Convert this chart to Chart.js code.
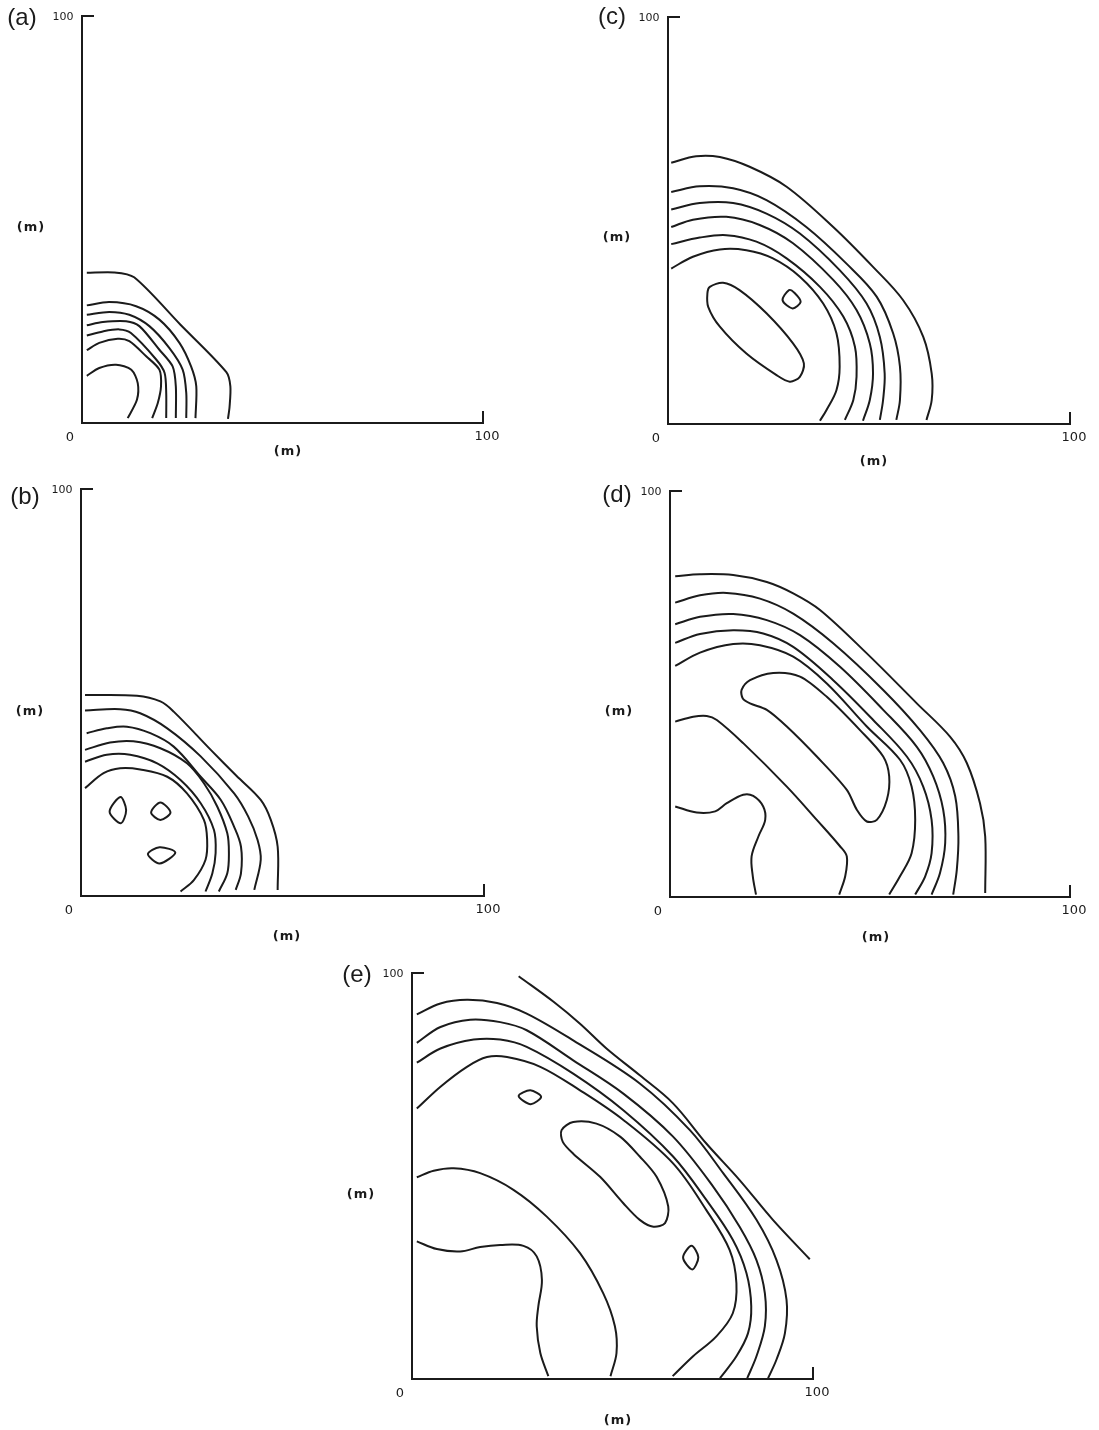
<!DOCTYPE html>
<html>
<head>
<meta charset="utf-8">
<script src="https://cdn.jsdelivr.net/npm/chart.js@4.4.0/dist/chart.umd.min.js"></script>
<style>
  body { margin: 0; background: #fff; width: 1099px; height: 1430px; position: relative; overflow: hidden; }
  canvas { position: absolute; }
</style>
</head>
<body>
<canvas id="chart-a"></canvas>
<canvas id="chart-b"></canvas>
<canvas id="chart-c"></canvas>
<canvas id="chart-d"></canvas>
<canvas id="chart-e"></canvas>
<script>
// contour lines, [x (m), y (m)]
// open lines run from the y axis down to the x axis; loops are closed
const contoursA = [
  [[1.2,36.9],[8,37],[13,35.8],[24.5,24.2],[36,12.5],[37,9],[36.8,4],[36.4,1]],
  [[1.2,28.9],[6.8,29.7],[13.5,28.7],[19.3,25.4],[24.3,19.7],[27.2,13.9],[28.5,9],[28.3,1.2]],
  [[1.2,26.6],[6.8,27.3],[11.8,26.6],[16.8,23.8],[21.8,18.4],[25.1,13.1],[26,7.4],[26,1.2]],
  [[1.2,24],[5.2,24.8],[11,25],[14.3,23.8],[19.3,18],[22.6,13.9],[23.4,9],[23.4,1.2]],
  [[1.2,21.5],[5.2,22.5],[9.3,23],[12.2,22.1],[18.5,15.6],[20.6,12.3],[21,7.4],[21,1.2]],
  [[1.2,17.9],[4.3,19.7],[8.9,20.7],[11.8,20.1],[16,16.4],[19.3,13.1],[19.7,9],[18.9,4.9],[17.5,1.2]],
  [[1.2,11.6],[4.3,13.5],[8.5,14.3],[12.3,13.1],[13.9,9.8],[13.7,5.7],[11.4,1.2]]
];
const loopsA = [];

const contoursB = [
  [[1,49.4],[13.9,49.2],[19.7,47.8],[23,45.3],[32.2,35.9],[38.5,29.6],[44.6,23.6],[47.1,18.7],[48.8,12.1],[48.8,1.5]],
  [[1,45.6],[9.7,45.9],[14.7,44.9],[21.4,41.2],[29.7,34.3],[38,25.2],[41.5,19.5],[43.8,13.8],[44.6,8.9],[43,1.5]],
  [[1.4,40],[6.4,41.2],[11.4,41.6],[17.2,40],[23,36.7],[29.7,29.3],[34.7,23.6],[38,17],[39.7,12.1],[39.7,5.6],[38.4,1.5]],
  [[1,35.9],[7.2,37.7],[13,38],[19.7,36.3],[26.3,32.6],[30.5,27.7],[33.8,22],[36.3,15.4],[36.7,10.5],[36.3,5.6],[34.2,1.1]],
  [[1,33],[6.4,34.7],[12.2,34.7],[18.9,32.6],[24.7,28.5],[29.7,22.8],[33,16.2],[33.4,10.5],[32.6,5.6],[30.9,1.1]],
  [[1,26.5],[5.6,30.2],[9.7,31.4],[14.7,31.1],[21.4,29.3],[26.3,25.2],[30.5,18.7],[31.3,13.8],[30.9,8.9],[28,3.9],[24.7,1.1]]
];
const loopsB = [
  [[9.8,24.3],[11.2,21.1],[9.9,17.9],[7.1,20.7]],
  [[19.7,23],[22.2,20.5],[19.7,18.7],[17.4,20.5]],
  [[16.6,10.3],[19.5,12],[23.4,10.7],[19.5,8]]
];

const contoursC = [
  [[0.8,64.2],[7,65.8],[12.9,65.6],[20.3,63.2],[29.5,58.3],[41.1,48.4],[51,38.6],[58.5,30.4],[63.5,21.4],[65.6,12.4],[65.6,5.9],[64.3,1]],
  [[0.8,57],[7.9,58.4],[16.2,57.9],[24.5,55],[34.4,48.4],[44.4,39.4],[51.9,31.3],[56,22.3],[57.7,14.1],[57.7,5.9],[56.8,1]],
  [[0.8,52.7],[7.9,54.3],[16.2,54.3],[24.5,51.7],[32.8,46.8],[42.7,37.8],[49.4,29.6],[52.7,21.4],[53.9,12.4],[53.5,5.9],[52.7,1]],
  [[0.8,48.4],[6.2,50.2],[14.5,50.9],[22.8,48.9],[31.1,44.4],[41.1,35.4],[46.9,28],[50.2,19.8],[51,12.4],[50.2,5.9],[48.5,0.8]],
  [[0.8,44.2],[7.9,45.8],[14.5,46.4],[22,44.8],[29.5,40.7],[37.8,33.7],[43.6,26.4],[46.5,19],[46.9,11.6],[46.1,5.9],[44,1]],
  [[0.8,38.2],[6.2,41.1],[12.9,42.9],[19.5,42.7],[26.1,40.7],[32.8,36.2],[38.6,29.6],[41.9,22.3],[42.7,14.1],[41.9,8.3],[39.4,3.4],[37.8,0.8]]
];
const loopsC = [
  [[10.4,33.7],[13.7,34.7],[17.8,32.9],[24.5,27.2],[31.1,19.8],[33.8,14.9],[32.8,11.6],[30.3,10.4],[27,12],[19.5,17.3],[12.9,23.9],[10,28.8],[9.8,32.1]],
  [[28.5,30.4],[30.1,32.9],[31.5,32.2],[33,30],[31,28.4]]
];

const contoursD = [
  [[1.3,79],[7.5,79.5],[15.8,79.3],[24.2,77.6],[30.8,74.8],[37.5,70.7],[49.2,60],[61.7,47.7],[70,39.5],[74.2,33],[77.5,23.1],[78.8,14.9],[78.8,1]],
  [[1.3,72.5],[7.5,74.3],[14.2,74.9],[22.5,73.5],[30.8,69.8],[40.8,62.5],[53.3,51],[62.5,41.1],[68.3,33],[71.3,24.8],[72.1,14.9],[71.7,6.7],[70.8,0.6]],
  [[1.3,67.2],[7.5,69],[15.8,69.7],[24.2,68.2],[32.5,64.5],[42.5,56.7],[53.3,46.1],[61.7,37],[65.8,29.7],[68.3,21.5],[68.8,13.3],[67.5,5.9],[65.4,0.6]],
  [[1.3,62.6],[7.5,64.8],[15.8,65.7],[23.3,64.9],[30.8,61.6],[40.8,53.4],[50.8,43.6],[59.2,34.6],[63.3,27.2],[65.4,19],[65.4,10.8],[63.8,5.1],[61.3,0.6]],
  [[1.3,56.9],[7.5,60.2],[15.8,62.3],[22.5,62],[30.8,59.2],[39.2,52.6],[49.2,42],[57.5,33.8],[60.4,27.2],[61.3,19],[60.4,10.8],[57.5,5.1],[54.8,0.6]],
  [[1.3,43.2],[5.8,44.4],[9.2,44.6],[11.7,43.6],[18.3,37.9],[29.2,27.2],[36.7,19],[42.5,12.5],[44.2,10],[43.8,5.1],[42.3,0.6]],
  [[1.3,22.3],[6.7,20.8],[11.3,21.1],[14.2,23.1],[18.3,25.2],[20.8,24.9],[23.3,22.3],[23.8,19],[22.1,14.9],[20.4,10],[20.7,5.1],[21.5,0.6]]
];
const loopsD = [
  [[17.9,51],[20,53.4],[25.8,55.2],[32.5,54.3],[39.2,49.3],[47.5,41.1],[53.3,34.6],[54.8,29.7],[54.2,23.9],[51.7,19],[49.2,18.6],[46.7,21.5],[44.2,26.4],[36.7,34.6],[29.2,42],[24.2,46.1],[20,47.7],[18.2,48.9]]
];

const contoursE = [
  [[26.6,99.2],[35.3,92.9],[41.9,87.5],[48.5,81.4],[56.8,74.8],[65.1,67.9],[73.4,58],[81.7,49],[90,39.2],[99.2,29.5]],
  [[1.2,89.8],[7.1,92.5],[13.7,93.4],[21.2,92.6],[28.6,90],[40.2,83.4],[56.8,72.8],[69.3,61.3],[77.6,50.7],[85.9,39.2],[90.9,29.3],[93.4,19.5],[93,11.3],[90.9,4.8],[88.8,0.2]],
  [[1.2,82.8],[7.1,86.7],[14.5,88.5],[22,87.9],[28.6,85.9],[40.2,78.5],[52.7,70.3],[65.1,59.7],[75.1,47.4],[81.7,37.5],[85.9,29.3],[88,21.1],[88,13],[85.9,5.6],[83.6,0.2]],
  [[1.2,77.9],[7.1,81.4],[15.4,83.6],[22,83.6],[28.6,81.8],[40.2,75.2],[52.7,66.2],[65.1,54.8],[73.4,44.1],[80,34.3],[83.4,26.1],[84.6,17.9],[83.8,11.3],[80.9,5.6],[76.8,0.2]],
  [[1.2,66.6],[7.1,72],[13.7,76.9],[18.7,79.3],[23.7,79.3],[32,76.9],[41.9,71.1],[52.7,63.8],[65.1,53.1],[73.4,41.6],[79.2,31.8],[80.9,23.6],[80,16.2],[75.9,10.5],[70.1,5.6],[65,0.7]],
  [[1.2,49.7],[5.4,51.3],[10.4,51.9],[17,50.7],[25.3,46.6],[33.6,40],[41.9,31],[47.7,21.1],[50.6,13],[51,6.4],[49.5,0.7]],
  [[1.2,33.9],[6.2,32],[12,31.4],[17,32.5],[22,33],[27.8,32.8],[31.1,30.2],[32.4,24.4],[31.5,17.9],[31.1,13],[32,6.4],[34,0.7]]
];
const loopsE = [
  [[37.3,61.3],[40.2,63.3],[46,62.9],[51.9,59.7],[56.8,54.8],[61,49.8],[63.9,42.5],[63.1,38.4],[60.2,37.5],[56.8,39.2],[52.7,43.3],[46.9,49.8],[40.2,55.5],[37.6,58.4]],
  [[26.6,69.7],[29.5,71.1],[32.2,69.5],[29.6,67.7]],
  [[69.7,32.8],[71.4,30],[69.9,27],[67.6,29.9]]
];

const axisMin = 0;
const axisMax = 100;
const xTickLabels = ['0', '100'];
const yTickLabel = '100';
const axisTitle = '(m)';

const INK = '#1b1b1b';
const PAD = { l: 80, t: 14, r: 30, b: 50 };

// where each plot box sits on the page + where its texts go
const panels = [
  { id: 'chart-a', tag: '(a)', left: 82,  top: 16,  w: 401, h: 407, lines: contoursA, loops: loopsA, tension: 0.28, tagDx: -60, tagDy: 2, yTitleDy: 212, xTitleDy: 29 },
  { id: 'chart-b', tag: '(b)', left: 81,  top: 489, w: 403, h: 407, lines: contoursB, loops: loopsB, tension: 0.35, tagDx: -56, tagDy: 8, yTitleDy: 223, xTitleDy: 41 },
  { id: 'chart-c', tag: '(c)', left: 668, top: 17,  w: 402, h: 407, lines: contoursC, loops: loopsC, tension: 0.35, tagDx: -56, tagDy: 0, yTitleDy: 221, xTitleDy: 38 },
  { id: 'chart-d', tag: '(d)', left: 670, top: 491, w: 400, h: 406, lines: contoursD, loops: loopsD, tension: 0.35, tagDx: -53, tagDy: 4, yTitleDy: 221, xTitleDy: 41 },
  { id: 'chart-e', tag: '(e)', left: 412, top: 973, w: 401, h: 406, lines: contoursE, loops: loopsE, tension: 0.35, tagDx: -55, tagDy: 2, yTitleDy: 222, xTitleDy: 42 }
];

// let closed contours join up smoothly (same thing the radar chart does)
const closeLoops = {
  id: 'closeLoops',
  beforeDatasetDraw(chart, args) {
    const ds = chart.data.datasets[args.index];
    const line = args.meta.dataset;
    if (!ds.closed || !line) return;
    line._loop = true;
    line._fullLoop = true;
    line._pointsUpdated = false;
    line._path = undefined;
    line._segments = undefined;
    line.updateControlPoints(chart.chartArea, 'x');
  }
};

const panelText = {
  id: 'panelText',
  afterDraw(chart, args, o) {
    const { ctx, scales: { x, y } } = chart;
    const x0 = x.getPixelForValue(axisMin), x1 = x.getPixelForValue(axisMax);
    const y0 = y.getPixelForValue(axisMin), y1 = y.getPixelForValue(axisMax);
    ctx.save();
    // corner ticks at the top of the y axis and the right end of the x axis
    ctx.strokeStyle = INK;
    ctx.lineWidth = 2;
    ctx.beginPath();
    ctx.moveTo(x0, y1); ctx.lineTo(x0 + 12, y1);
    ctx.moveTo(x1, y0); ctx.lineTo(x1, y0 - 12);
    ctx.stroke();

    ctx.fillStyle = INK;
    ctx.textAlign = 'center';
    ctx.textBaseline = 'middle';
    ctx.font = '24px "Liberation Sans"';
    ctx.fillText(o.tag, x0 + o.tagDx, y1 + o.tagDy);

    ctx.font = '11px "DejaVu Sans"';
    ctx.fillText(yTickLabel, x0 - 19, y1 + 1);

    ctx.font = '13px "DejaVu Sans"';
    ctx.fillText(xTickLabels[0], x0 - 12, y0 + 15);
    ctx.fillText(xTickLabels[1], x1 + 4, y0 + 14);

    ctx.font = 'bold 13px "DejaVu Sans"';
    ctx.letterSpacing = '1px';
    ctx.fillText(axisTitle, x0 + 206, y0 + o.xTitleDy);
    ctx.fillText(axisTitle, x0 - 51, y1 + o.yTitleDy);
    ctx.restore();
  }
};

const makeDataset = (pts, tension, closed) => ({
  data: pts.map(([x, y]) => ({ x, y })),
  closed: closed,
  showLine: true,
  borderColor: INK,
  borderWidth: 2,
  pointRadius: 0,
  tension: tension,
  fill: false
});

const createPanel = (p) => {
  const canvas = document.getElementById(p.id);
  canvas.width = PAD.l + p.w + PAD.r;
  canvas.height = PAD.t + p.h + PAD.b;
  canvas.style.left = (p.left - PAD.l) + 'px';
  canvas.style.top = (p.top - PAD.t) + 'px';

  const datasets = p.lines.map(pts => makeDataset(pts, p.tension, false))
    .concat(p.loops.map(pts => makeDataset(pts, 0.3, true)));

  const axis = {
    type: 'linear',
    min: axisMin,
    max: axisMax,
    grid: { display: false, drawTicks: false },
    ticks: { display: false },
    border: { display: true, color: INK, width: 2 }
  };

  new Chart(canvas, {
    type: 'scatter',
    data: { datasets: datasets },
    options: {
      responsive: false,
      animation: false,
      devicePixelRatio: 1,
      layout: { padding: { left: PAD.l, top: PAD.t, right: PAD.r, bottom: PAD.b } },
      plugins: {
        legend: { display: false },
        tooltip: { enabled: false },
        panelText: p
      },
      scales: {
        x: Object.assign({}, axis, { position: 'bottom' }),
        y: Object.assign({}, axis, { position: 'left' })
      }
    },
    plugins: [closeLoops, panelText]
  });
};

panels.forEach(createPanel);
</script>
</body>
</html>
